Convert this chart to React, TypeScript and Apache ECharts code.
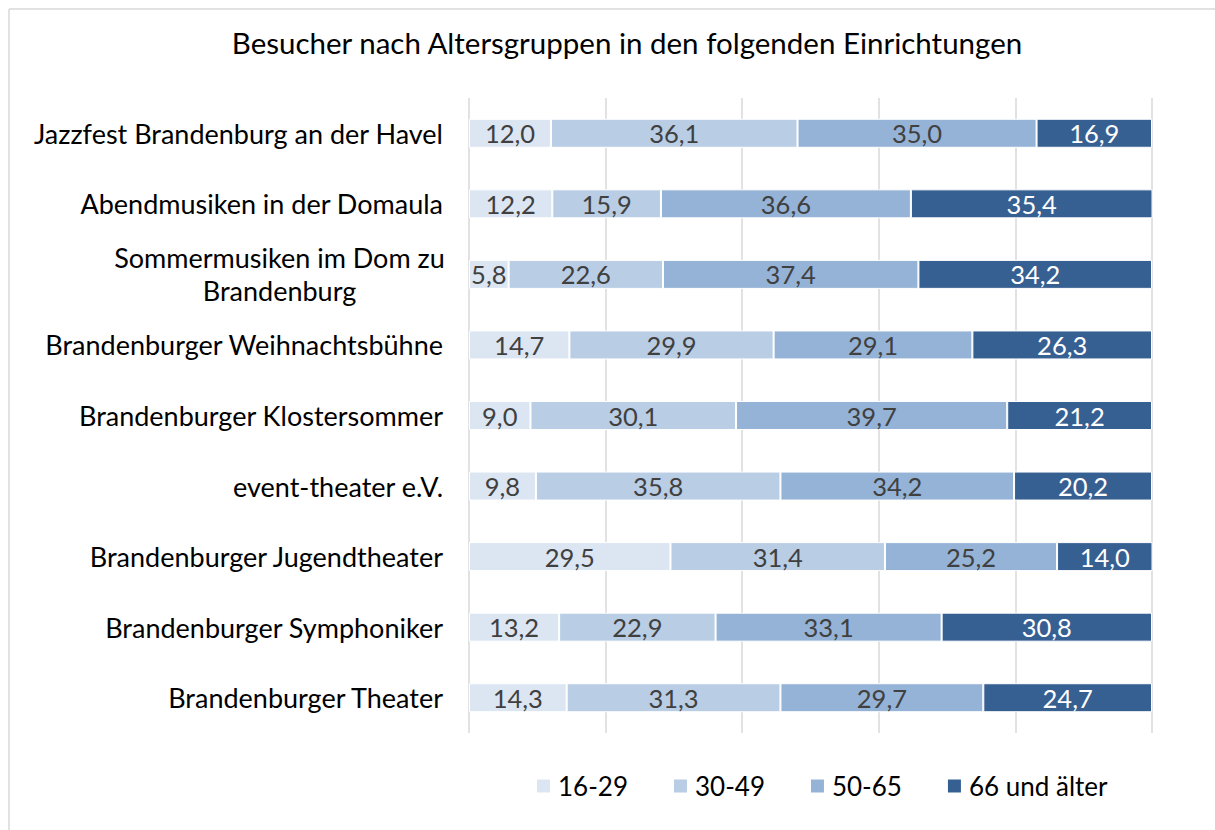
import React, { useEffect, useRef } from "react";
import * as echarts from "echarts";

const categories = [
  "Jazzfest Brandenburg an der Havel",
  "Abendmusiken in der Domaula",
  "Sommermusiken im Dom zu Brandenburg",
  "Brandenburger Weihnachtsbühne",
  "Brandenburger Klostersommer",
  "event-theater e.V.",
  "Brandenburger Jugendtheater",
  "Brandenburger Symphoniker",
  "Brandenburger Theater",
];
const seriesNames = ["16-29", "30-49", "50-65", "66 und älter"];
const age16_29 = [12.0, 12.2, 5.8, 14.7, 9.0, 9.8, 29.5, 13.2, 14.3];
const age30_49 = [36.1, 15.9, 22.6, 29.9, 30.1, 35.8, 31.4, 22.9, 31.3];
const age50_65 = [35.0, 36.6, 37.4, 29.1, 39.7, 34.2, 25.2, 33.1, 29.7];
const age66 = [16.9, 35.4, 34.2, 26.3, 21.2, 20.2, 14.0, 30.8, 24.7];
const xTicks = [0, 20, 40, 60, 80, 100];

const colors = ["#DCE6F2", "#B9CDE5", "#95B3D7", "#376092"];
const labelColors = ["#404040", "#404040", "#404040", "#FFFFFF"];
const FONT = "Lato";

export default function App() {
  const ref = useRef<HTMLDivElement>(null);
  useEffect(() => {
    if (!ref.current) return;
    const chart = echarts.init(ref.current, undefined, { renderer: "svg" });
    const data = [age16_29, age30_49, age50_65, age66];
    chart.setOption({
      animation: false,
      backgroundColor: "#FFFFFF",
      textStyle: { fontFamily: FONT },
      title: {
        text: "Besucher nach Altersgruppen in den folgenden Einrichtungen",
        left: 622,
        top: 22,
        textAlign: "center",
        textStyle: { fontFamily: FONT, fontSize: 29.5, fontWeight: "normal", color: "#000000" },
      },
      graphic: [
        { type: "line", shape: { x1: 9, y1: 9, x2: 1215, y2: 9 }, style: { stroke: "#D9D9D9", lineWidth: 1.5 } },
        { type: "line", shape: { x1: 9, y1: 9, x2: 9, y2: 830 }, style: { stroke: "#D9D9D9", lineWidth: 1.5 } },
      ],
      legend: {
        data: seriesNames,
        left: 530,
        top: 768,
        icon: "rect",
        itemWidth: 15,
        itemHeight: 15,
        itemGap: 44,
        textStyle: { fontFamily: FONT, fontSize: 26, color: "#000000", padding: [0, 0, 0, 2] },
      },
      grid: { left: 469, right: 63, top: 98, bottom: 97, containLabel: false },
      xAxis: {
        type: "value",
        min: xTicks[0],
        max: xTicks[xTicks.length - 1],
        interval: 20,
        axisLabel: { show: false },
        axisLine: { show: false },
        axisTick: { show: false },
        splitLine: { show: true, lineStyle: { color: "#D9D9D9", width: 1.5 } },
      },
      yAxis: {
        type: "category",
        inverse: true,
        data: categories,
        axisLine: { show: false },
        axisTick: { show: false },
        axisLabel: {
          margin: 26,
          fontFamily: FONT,
          fontSize: 27,
          color: "#000000",
          lineHeight: 33,
          formatter: (v: string) =>
            v === "Sommermusiken im Dom zu Brandenburg"
              ? "{c|Sommermusiken im Dom zu}\n{c|Brandenburg}"
              : v,
          rich: {
            c: { width: 327, align: "center", fontFamily: FONT, fontSize: 27, color: "#000000", lineHeight: 33 },
          },
        },
      },
      series: seriesNames.map((name, i) => ({
        name,
        type: "bar",
        stack: "total",
        barWidth: 29,
        data: data[i],
        itemStyle: { color: colors[i], borderColor: "#FFFFFF", borderWidth: 1 },
        label: {
          show: true,
          position: "inside",
          fontFamily: FONT,
          fontSize: 25.5,
          color: labelColors[i],
          formatter: (p: any) => p.value.toFixed(1).replace(".", ","),
        },
      })),
    });
    return () => chart.dispose();
  }, []);
  return (
    <div
      ref={ref}
      style={{ position: "fixed", left: 0, top: 0, width: 1215, height: 830 }}
    />
  );
}
